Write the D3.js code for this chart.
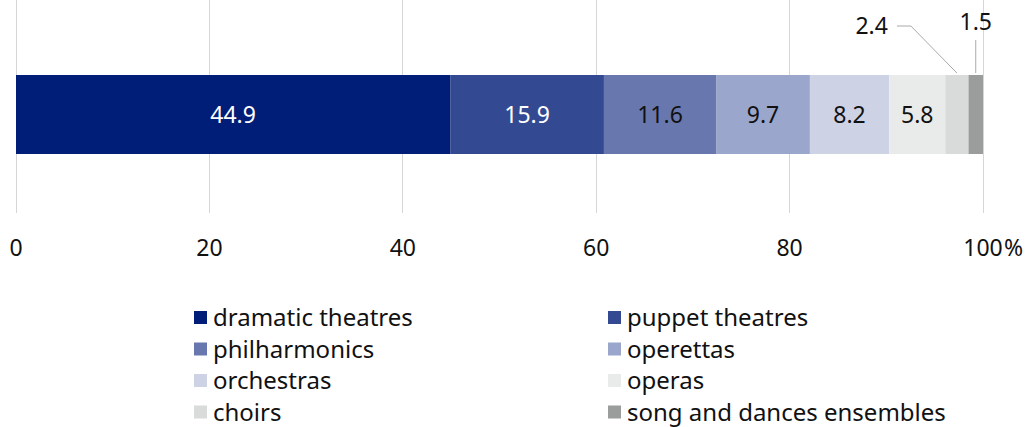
<!DOCTYPE html>
<html><head><meta charset="utf-8">
<script src="https://cdn.jsdelivr.net/npm/d3@7"></script>
<style>body{margin:0;background:#fff;} svg{display:block;font-family:"Noto Sans",sans-serif;}</style>
</head><body>
<svg id="c" width="1031" height="427"></svg>
<script>
const categories = ["dramatic theatres","puppet theatres","philharmonics","operettas","orchestras","operas","choirs","song and dances ensembles"];
const values = [44.9,15.9,11.6,9.7,8.2,5.8,2.4,1.5];
const colors = ["#001e78","#334a93","#6878ae","#9aa6cb","#cdd2e5","#e9ebeb","#d9dada","#9b9c9c"];
const labelColors = ["#fff","#fff","#111","#111","#111","#111","#111","#111"];
const ticks = [0,20,40,60,80,100];

const svg = d3.select("#c");
const x = d3.scaleLinear().domain([0,100]).range([16,983]);
const barTop = 75, barH = 79;
const fs = 23;

// grid
svg.append("g").selectAll("line").data(ticks).join("line")
  .attr("x1",d=>x(d)).attr("x2",d=>x(d)).attr("y1",0).attr("y2",213)
  .attr("stroke","#d6d6d6").attr("stroke-width",1).attr("shape-rendering","crispEdges");

// stacked
let cum = 0;
const segs = values.map((v,i)=>{const s={i,v,x0:cum,x1:cum+v};cum+=v;return s;});
svg.append("g").selectAll("rect").data(segs).join("rect")
  .attr("x",d=>x(d.x0)).attr("width",d=>x(d.x1)-x(d.x0))
  .attr("y",barTop).attr("height",barH).attr("fill",d=>colors[d.i]);

// inside labels
svg.append("g").selectAll("text").data(segs.filter(d=>d.v>=5)).join("text")
  .attr("x",d=>(x(d.x0)+x(d.x1))/2).attr("y",barTop+barH/2+8)
  .attr("text-anchor","middle").attr("font-size",fs)
  .attr("fill",d=>labelColors[d.i]).text(d=>d.v.toFixed(1));

// outside labels
const ch = segs[6], sd = segs[7];
const chx = (x(ch.x0)+x(ch.x1))/2, sdx = (x(sd.x0)+x(sd.x1))/2;
svg.append("path").attr("d",`M${chx},${barTop-2} L${chx-46},26 L${chx-60},26`)
  .attr("fill","none").attr("stroke","#aaa").attr("stroke-width",1);
svg.append("text").attr("x",chx-69).attr("y",34).attr("text-anchor","end")
  .attr("font-size",fs).attr("fill","#111").text(ch.v.toFixed(1));
svg.append("line").attr("x1",sdx).attr("x2",sdx).attr("y1",barTop-2).attr("y2",40)
  .attr("stroke","#aaa").attr("stroke-width",1);
svg.append("text").attr("x",sdx).attr("y",30).attr("text-anchor","middle")
  .attr("font-size",fs).attr("fill","#111").text(sd.v.toFixed(1));

// axis labels
const ax = svg.append("g");
ax.selectAll("text").data(ticks).join("text")
  .attr("x",d=>x(d)).attr("y",256).attr("text-anchor","middle")
  .attr("font-size",fs).attr("fill","#111").text(d=>d);
ax.append("text").attr("x",x(100)+21).attr("y",256).attr("font-size",fs).attr("fill","#111").text("%");

// legend
const lg = svg.append("g");
const item = lg.selectAll("g").data(categories).join("g")
  .attr("transform",(d,i)=>`translate(${i%2===0?194:608},${318+Math.floor(i/2)*31.5})`);
item.append("rect").attr("x",0).attr("y",-7).attr("width",13).attr("height",13)
  .attr("fill",(d,i)=>colors[i]);
item.append("text").attr("x",19).attr("y",8).attr("font-size",24).attr("fill","#111").text(d=>d);
</script>
</body></html>
